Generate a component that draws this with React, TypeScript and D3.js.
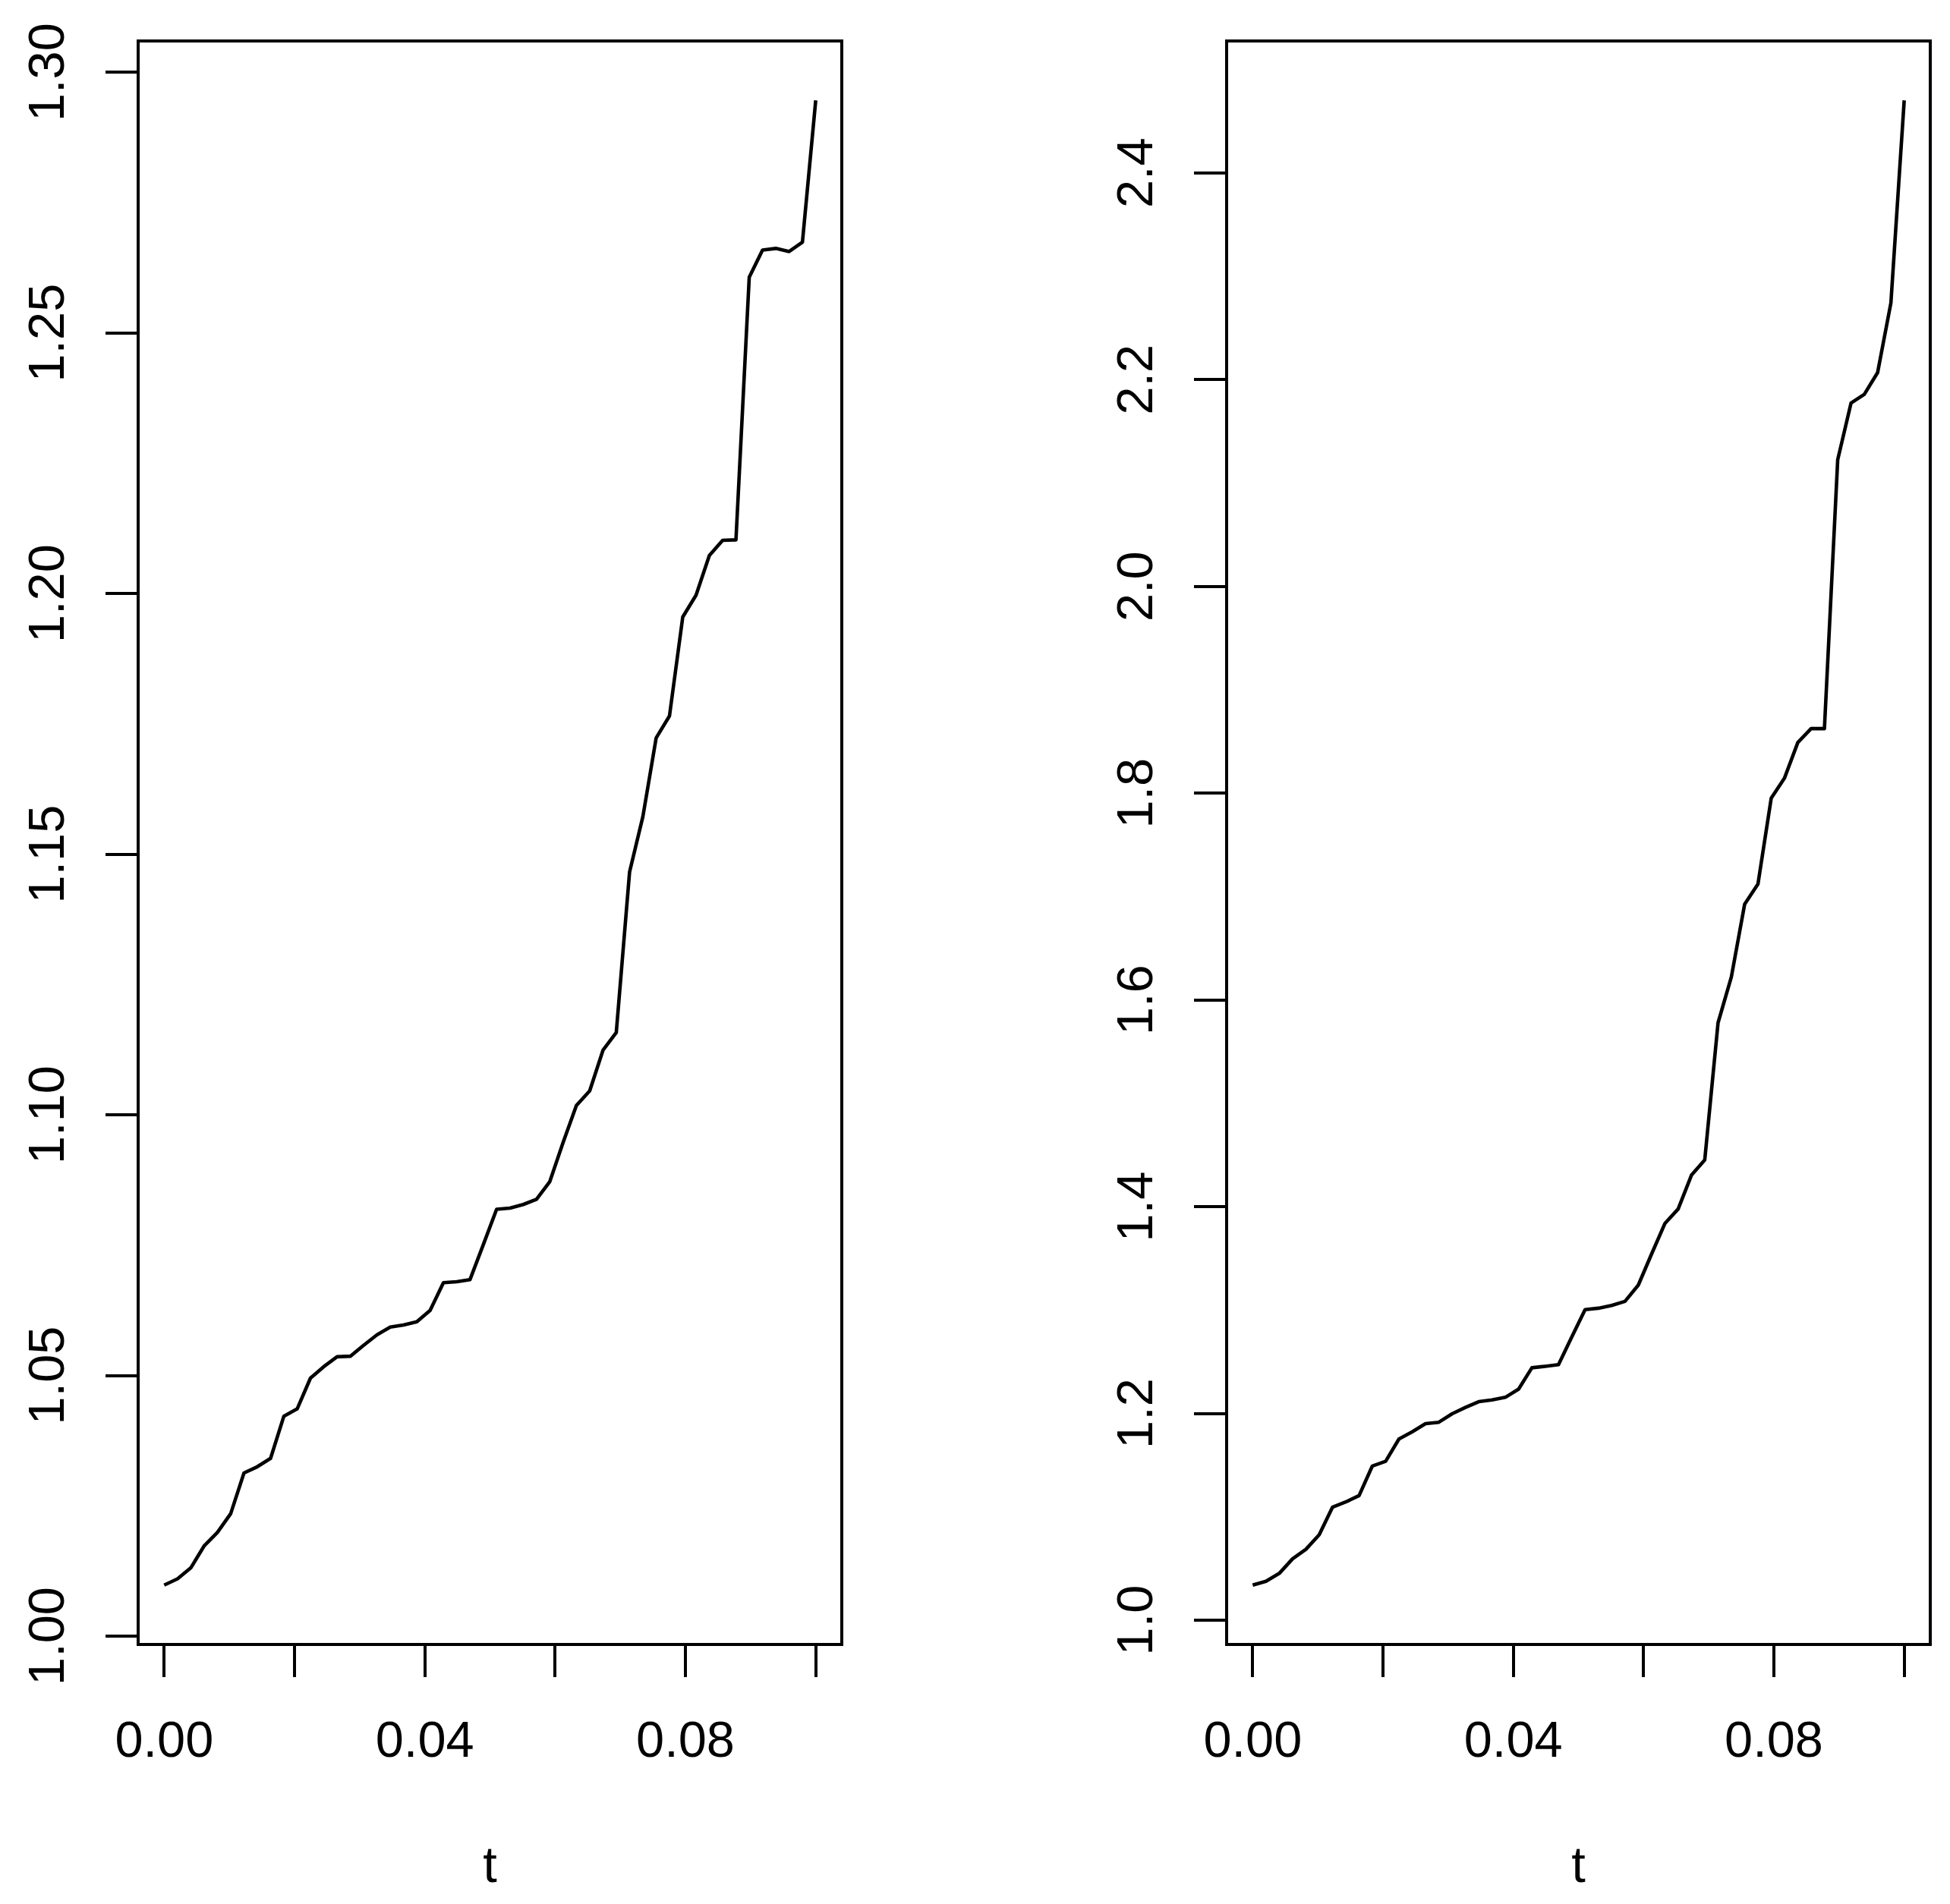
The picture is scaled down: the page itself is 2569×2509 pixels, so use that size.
import React from "react";
import * as d3 from "d3";

// time grid (50 points from 0 to 0.1)
const t = [
  0, 0.0020408, 0.0040816, 0.0061224, 0.0081633, 0.0102041, 0.0122449, 0.0142857, 0.0163265, 0.0183673,
  0.0204082, 0.022449, 0.0244898, 0.0265306, 0.0285714, 0.0306122, 0.0326531, 0.0346939, 0.0367347, 0.0387755,
  0.0408163, 0.0428571, 0.044898, 0.0469388, 0.0489796, 0.0510204, 0.0530612, 0.055102, 0.0571429, 0.0591837,
  0.0612245, 0.0632653, 0.0653061, 0.0673469, 0.0693878, 0.0714286, 0.0734694, 0.0755102, 0.077551, 0.0795918,
  0.0816327, 0.0836735, 0.0857143, 0.0877551, 0.0897959, 0.0918367, 0.0938776, 0.0959184, 0.0979592, 0.1,
];

const leftSeries = [
  1.0098, 1.011, 1.0131, 1.0173, 1.0199, 1.0235, 1.0313, 1.0325, 1.0341, 1.0422,
  1.0436, 1.0495, 1.0517, 1.0536, 1.0537, 1.0558, 1.0578, 1.0593, 1.0597, 1.0603,
  1.0625, 1.0678, 1.068, 1.0684, 1.0751, 1.0819, 1.0821, 1.0828, 1.0838, 1.0872,
  1.0947, 1.1018, 1.1046, 1.1124, 1.1158, 1.1466, 1.1572, 1.1723, 1.1765, 1.1955,
  1.1997, 1.2073, 1.2102, 1.2103, 1.2607, 1.2659, 1.2662, 1.2656, 1.2674, 1.2946,
];

const rightSeries = [
  1.034, 1.0377, 1.0453, 1.0594, 1.0686, 1.0826, 1.1093, 1.1144, 1.1205, 1.1492,
  1.1537, 1.1753, 1.1823, 1.1902, 1.1915, 1.1997, 1.2058, 1.2114, 1.2131, 1.2156,
  1.2236, 1.2442, 1.2456, 1.2472, 1.274, 1.3005, 1.3018, 1.3045, 1.3084, 1.3241,
  1.3542, 1.3837, 1.3978, 1.4305, 1.4453, 1.5779, 1.6222, 1.6926, 1.712, 1.7952,
  1.8147, 1.849, 1.8624, 1.8624, 2.1226, 2.1773, 2.1858, 2.2068, 2.2742, 2.4701,
];

const xTicks = [0, 0.02, 0.04, 0.06, 0.08, 0.1];
const xTickLabels = ["0.00", "", "0.04", "", "0.08", ""];
const leftTicks = [1.0, 1.05, 1.1, 1.15, 1.2, 1.25, 1.3];
const rightTicks = [1.0, 1.2, 1.4, 1.6, 1.8, 2.0, 2.2, 2.4];

const FONT = "'Liberation Sans', Arial, Helvetica, sans-serif";
const FS = 66.7;
const TOP = 54;
const BOTTOM = 2167;

// R-style 4% padding of the data range
const pad = ([a, b]: [number, number]): [number, number] => {
  const r = b - a;
  return [a - 0.04 * r, b + 0.04 * r];
};

type PanelProps = {
  x0: number;
  x1: number;
  values: number[];
  yTicks: number[];
  yFmt: (v: number) => string;
};

const Panel = ({ x0, x1, values, yTicks, yFmt }: PanelProps) => {
  const xScale = d3.scaleLinear().domain(pad(d3.extent(t) as [number, number])).range([x0, x1]);
  const yScale = d3.scaleLinear().domain(pad(d3.extent(values) as [number, number])).range([BOTTOM, TOP]);
  const line = d3
    .line<number>()
    .x((_, i) => xScale(t[i]))
    .y((d) => yScale(d));

  return (
    <g fontFamily={FONT} fontSize={FS} fill="#000">
      <rect
        x={x0}
        y={TOP}
        width={x1 - x0}
        height={BOTTOM - TOP}
        fill="none"
        stroke="#000"
        strokeWidth={4}
        shapeRendering="crispEdges"
      />
      <path d={line(values) || ""} fill="none" stroke="#000" strokeWidth={4.6} strokeLinejoin="round" />

      {xTicks.map((v, i) => (
        <g key={"x" + i}>
          <line
            x1={Math.round(xScale(v))}
            x2={Math.round(xScale(v))}
            y1={BOTTOM}
            y2={BOTTOM + 43}
            stroke="#000"
            strokeWidth={4}
            shapeRendering="crispEdges"
          />
          {xTickLabels[i] && (
            <text x={xScale(v)} y={2315} textAnchor="middle">
              {xTickLabels[i]}
            </text>
          )}
        </g>
      ))}
      <text x={(x0 + x1) / 2} y={2480} textAnchor="middle">
        t
      </text>

      {yTicks.map((v, i) => (
        <g key={"y" + i}>
          <line
            x1={x0 - 43}
            x2={x0}
            y1={Math.round(yScale(v))}
            y2={Math.round(yScale(v))}
            stroke="#000"
            strokeWidth={4}
            shapeRendering="crispEdges"
          />
          <text transform={`translate(${x0 - 98},${yScale(v)}) rotate(-90)`} textAnchor="middle">
            {yFmt(v)}
          </text>
        </g>
      ))}
    </g>
  );
};

const App = () => {
  return (
    <svg
      width={2569}
      height={2509}
      style={{ position: "absolute", left: 0, top: 0, background: "#fff" }}
    >
      <rect width={2569} height={2509} fill="#fff" />
      <Panel x0={182} x1={1109} values={leftSeries} yTicks={leftTicks} yFmt={d3.format(".2f")} />
      <Panel x0={1616} x1={2543} values={rightSeries} yTicks={rightTicks} yFmt={d3.format(".1f")} />
    </svg>
  );
};

export default App;
